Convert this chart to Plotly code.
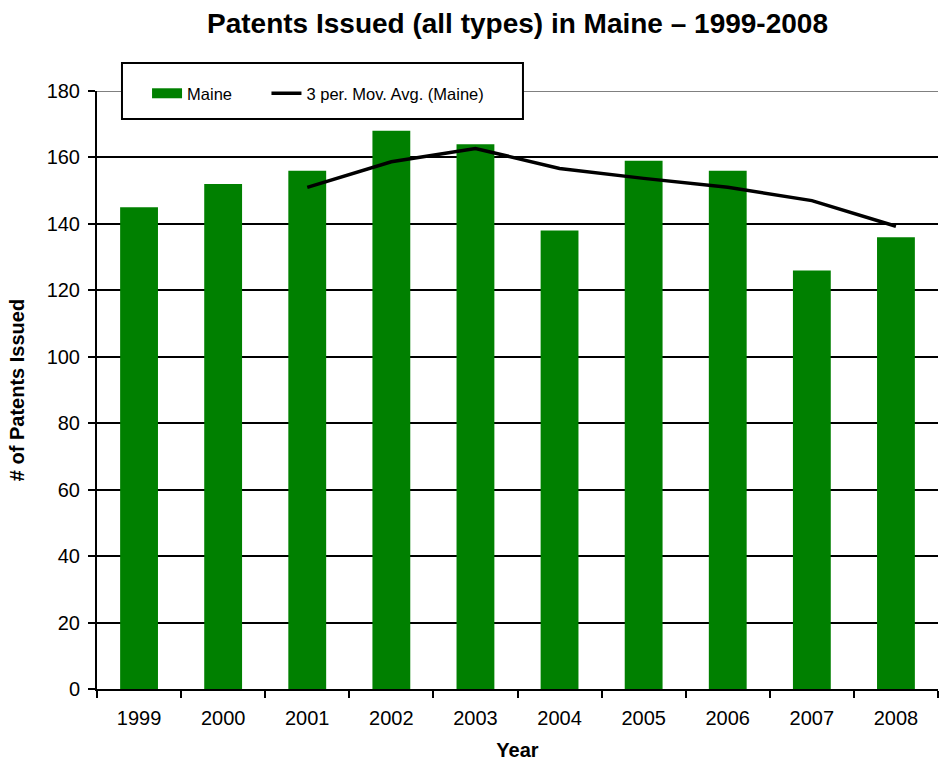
import plotly.graph_objects as go

years = ["1999", "2000", "2001", "2002", "2003", "2004", "2005", "2006", "2007", "2008"]
maine = [145, 152, 156, 168, 164, 138, 159, 156, 126, 136]
mov_avg = [None, None, 151.0, 158.7, 162.7, 156.7, 153.7, 151.0, 147.0, 139.3]
y_ticks = [0, 20, 40, 60, 80, 100, 120, 140, 160, 180]

FONT = "Liberation Sans, Arial, sans-serif"
GREEN = "#008000"

fig = go.Figure()
fig.add_trace(go.Bar(x=years, y=maine, name="Maine", showlegend=False,
                     marker=dict(color=GREEN, line=dict(width=0))))
# legend proxy (wide green swatch like the original)
fig.add_trace(go.Scatter(x=[None], y=[None], name="Maine", mode="lines",
                         line=dict(color=GREEN, width=12), showlegend=True, legend="legend"))
fig.add_trace(go.Scatter(x=years, y=mov_avg, name="3 per. Mov. Avg. (Maine)", mode="lines",
                         line=dict(color="black", width=3.5), legend="legend2"))

# top gridline (grey) and legend frame
fig.add_shape(type="line", xref="paper", yref="y", x0=0, x1=1, y0=180, y1=180,
              line=dict(color="#808080", width=2), layer="below")
fig.add_shape(type="rect", xref="paper", yref="paper", x0=0.0297, x1=0.5065, y0=0.953, y1=1.0468,
              fillcolor="white", line=dict(color="black", width=2), layer="above")

legend_common = dict(orientation="h", y=1.025, xanchor="left", yanchor="top",
                     bgcolor="rgba(0,0,0,0)", borderwidth=0,
                     font=dict(size=16.5, family=FONT))

fig.update_layout(
    width=940, height=762,
    margin=dict(l=97, r=2, t=91, b=73),
    paper_bgcolor="white", plot_bgcolor="white",
    font=dict(family=FONT, color="black", size=20),
    title=dict(text="<b>Patents Issued (all types) in Maine – 1999-2008</b>", x=0.5, xref="paper",
               y=1 - 23 / 762, yref="container", yanchor="middle", font=dict(size=28, family=FONT)),
    bargap=0.55,
    showlegend=True,
    legend=dict(x=0.0595, **legend_common),
    legend2=dict(x=0.2015, **legend_common),
    xaxis=dict(showline=True, linecolor="black", linewidth=2, ticks="outside", ticklen=7,
               tickwidth=2, tickcolor="black", tickson="boundaries", showgrid=False,
               automargin=False, ticklabelstandoff=10,
               title=dict(text="<b>Year</b>", font=dict(size=20), standoff=15),
               tickfont=dict(size=20)),
    yaxis=dict(range=[0, 180], tickvals=y_ticks, showline=True, linecolor="black", linewidth=2,
               ticks="outside", ticklen=7, tickwidth=2, tickcolor="black",
               showgrid=True, gridcolor="black", gridwidth=2, zeroline=False,
               automargin=False, ticklabelstandoff=4,
               title=dict(text="<b># of Patents Issued</b>", font=dict(size=20), standoff=17),
               tickfont=dict(size=20)),
)

fig.write_html("out.html", config={"displayModeBar": False},
               post_script="document.body.style.margin='0';")
